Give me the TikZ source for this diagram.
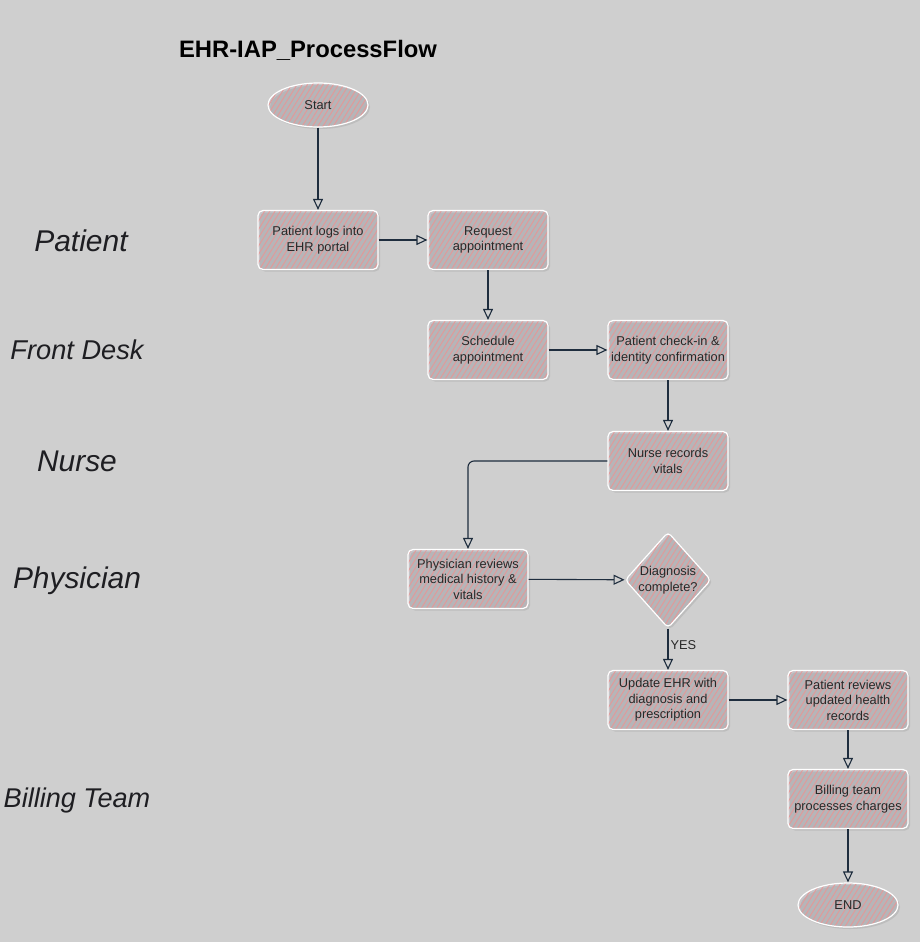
\documentclass[tikz,border=0pt]{standalone}
\usepackage{fontspec}
\setmainfont{Liberation Sans}
\usetikzlibrary{shapes.geometric,arrows.meta,patterns.meta,shadows}
\definecolor{bgc}{RGB}{207,207,207}
\definecolor{boxbg}{RGB}{198,196,200}
\definecolor{hatch}{RGB}{228,152,152}
\definecolor{linec}{RGB}{30,45,62}
\definecolor{txt}{RGB}{40,40,40}
\definecolor{lane}{RGB}{30,30,34}
\tikzset{
  sketchfill/.style={preaction={fill=boxbg}, pattern={Lines[angle=58,distance=4.4pt,line width=0.9pt]}, pattern color=hatch,
    draw=white, line width=1.2pt, drop shadow={opacity=0.22, shadow xshift=2pt, shadow yshift=-2pt}},
  procbox/.style={sketchfill, rectangle, rounded corners=5pt, minimum width=120pt, minimum height=59pt,
    align=center, font=\fontsize{12.8}{15.5}\selectfont, text=txt, inner sep=2pt},
  termnode/.style={sketchfill, ellipse, minimum width=100pt, minimum height=44pt, font=\fontsize{12.8}{15}\selectfont, text=txt, inner sep=0pt},
  decnode/.style={sketchfill, diamond, rounded corners=4pt, minimum width=86pt, minimum height=96pt, aspect=0.9, inner sep=0pt,
    align=center, font=\fontsize{12.8}{15.5}\selectfont, text=txt},
  lanelabel/.style={text=lane},
  conn/.style={draw=linec, line width=1.1pt, -{Triangle[open, length=11pt, width=10pt, line width=1.1pt]}},
}
\begin{document}
\begin{tikzpicture}[x=1pt,y=-1pt]
\fill[bgc] (0,0) rectangle (920,942);
\useasboundingbox (0,0) rectangle (920,942);

\node[font=\bfseries\fontsize{23.8}{28}\selectfont, text=black] (title) at (308,50) {EHR-IAP\_ProcessFlow};

\node[lanelabel, font=\itshape\fontsize{30}{32}\selectfont] (lp) at (81,241) {Patient};
\node[lanelabel, font=\itshape\fontsize{27.2}{30}\selectfont] (lf) at (77,350) {Front Desk};
\node[lanelabel, font=\itshape\fontsize{29.9}{32}\selectfont] (ln) at (77,461) {Nurse};
\node[lanelabel, font=\itshape\fontsize{29.9}{32}\selectfont] (lph) at (77,581) {Physician};
\node[lanelabel, font=\itshape\fontsize{27.1}{30}\selectfont] (lb) at (77,800) {Billing Team};

\node[termnode] (start) at (318,105) {Start};
\node[procbox] (login) at (318,240) {Patient logs into\\EHR portal};
\node[procbox] (req) at (488,240) {Request\\appointment};
\node[procbox] (sched) at (488,350) {Schedule\\appointment};
\node[procbox] (check) at (668,350) {Patient check-in \&\\identity confirmation};
\node[procbox] (nurse) at (668,461) {Nurse records\\vitals};
\node[procbox] (phys) at (468,579) {Physician reviews\\medical history \&\\vitals};
\node[decnode] (diag) at (668,580) {Diagnosis\\complete?};
\node[procbox] (upd) at (668,700) {Update EHR with\\diagnosis and\\prescription};
\node[procbox] (prev) at (848,700) {Patient reviews\\updated health\\records};
\node[procbox] (bill) at (848,799) {Billing team\\processes charges};
\node[termnode] (endn) at (848,905) {END};

\draw[conn] (start) -- (login);
\draw[conn] (login) -- (req);
\draw[conn] (req) -- (sched);
\draw[conn] (sched) -- (check);
\draw[conn] (check) -- (nurse);
\draw[conn, rounded corners=6pt] (nurse.west) -| (phys.north);
\draw[conn] (phys) -- (diag);
\draw[conn] (diag) -- node[right, pos=0.4, font=\fontsize{12.8}{15}\selectfont, text=txt, inner sep=2pt] (yes) {YES} (upd);
\draw[conn] (upd) -- (prev);
\draw[conn] (prev) -- (bill);
\draw[conn] (bill) -- (endn);
\end{tikzpicture}
\end{document}
